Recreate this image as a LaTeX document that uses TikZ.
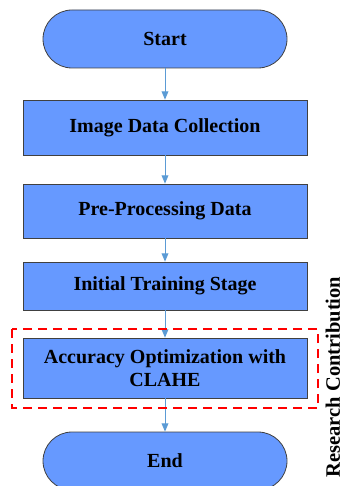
\documentclass[tikz,border=0pt]{standalone}
\usepackage{fontspec}
\setmainfont{Liberation Serif}
\usetikzlibrary{shapes.geometric, arrows}
\usetikzlibrary{positioning}
\definecolor{boxblue}{HTML}{6699FF}
\definecolor{linkblue}{HTML}{5B9BD5}

\begin{document}
\begin{tikzpicture}[x=1pt,y=1pt,yscale=-1,xscale=1]
  \useasboundingbox (0,0) rectangle (343,486);
  \clip (0,0) rectangle (343,486);
  \tikzstyle{arrow} = [linkblue,line width=0.9pt,->,>=triangle 45]
  \tikzstyle{stepbox} = [rectangle,draw=black!75,fill=boxblue,line width=0.8pt,minimum width=284pt,align=center,font=\fontsize{20}{23}\selectfont\bfseries,inner sep=0pt]
  \tikzstyle{terminal} = [stepbox,minimum width=244pt,minimum height=58pt,rounded corners=29pt]
  %Draw the terminals
  \node[terminal] (start) at (165,39) {Start};
  \node[terminal] (end) at (165,461) {End};
  %Draw the steps
  \node[stepbox,minimum height=55pt] (collect) at (165,127.5) {Image Data Collection};
  \node[stepbox,minimum height=54pt] (preproc) at (165,211) {Pre-Processing Data};
  \node[stepbox,minimum height=48pt] (train) at (165,286) {Initial Training Stage};
  \node[stepbox,minimum height=60pt] (optim) at (165,368) {Accuracy Optimization with\\CLAHE};
  %Draw the links
  \draw [arrow] (start) -- (collect);
  \draw [arrow] (collect) -- (preproc);
  \draw [arrow] (preproc) -- (train);
  \draw [arrow] (train) -- (optim);
  \draw [arrow] (optim) -- (end);
  %Mark the research contribution
  \draw [red,dashed,line width=2pt,dash pattern=on 9pt off 6pt] (12,329) rectangle (318,408);
  \node[rotate=90,inner sep=0pt,font=\fontsize{20.5}{24}\selectfont\bfseries] (contrib) at (333,377) {Research Contribution};
\end{tikzpicture}
\end{document}
